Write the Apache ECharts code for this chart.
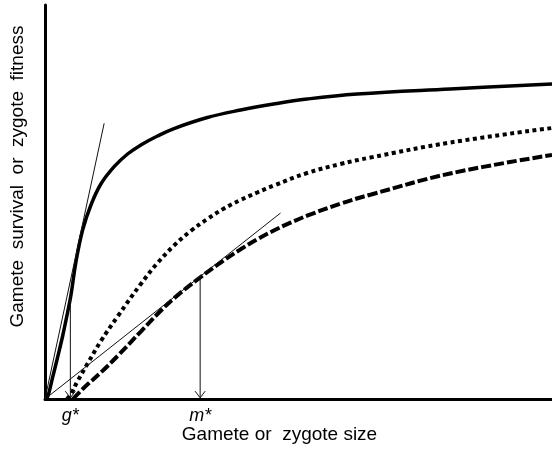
<!DOCTYPE html>
<html>
<head>
<meta charset="utf-8">
<script src="https://cdn.jsdelivr.net/npm/echarts@6/dist/echarts.min.js"></script>
<style>
  html, body { margin: 0; padding: 0; background: #fff; }
  #mychart { width: 552px; height: 458px; }
</style>
</head>
<body>
<div id="mychart"></div>
<script>
// curves, in plot units (x 0..100, y 0..100)
var gameteCurve = [
    [0, 0], [0.53, 0.58], [1.52, 5.58], [2.5, 10.66], [3.48, 15.99], [4.47, 22.08],
    [5.12, 26.4], [6.1, 34.77], [7.42, 42.89], [9.06, 49.24], [11.02, 54.57],
    [13.64, 58.96], [16.28, 62.18], [18.9, 64.47], [22.19, 66.75], [25.45, 68.65],
    [32.03, 71.45], [38.58, 73.35], [45.08, 74.87], [51.71, 76.14], [61.56, 77.41],
    [79.92, 78.68], [100, 79.95]
]
var dottedCurve = [
    [4.33, 0], [5.12, 1.27], [6.44, 4.57], [8.41, 9.01], [11.02, 14.72], [14.31, 20.94],
    [18.9, 29.19], [22.19, 34.52], [25.45, 38.96], [28.74, 42.64], [32.03, 45.69],
    [35.3, 48.35], [38.58, 50.51], [41.87, 52.41], [45.14, 54.19], [51.71, 57.36],
    [58.27, 59.64], [64.17, 61.29], [79.92, 65.1], [100, 68.78]
]
var zygoteCurve = [
    [5.51, 0], [7.74, 2.92], [11.02, 6.73], [14.31, 10.91], [18.9, 17.13], [22.19, 21.57],
    [25.45, 25.56], [30.37, 30.63], [35.3, 35.2], [38.58, 37.99], [41.87, 40.53],
    [45.14, 42.77], [48.43, 44.75], [51.71, 46.52], [58.27, 49.57], [64.17, 51.85],
    [79.92, 57.23], [100, 61.93]
]
// tangent lines from the origin
var tangentG = [[0, 0], [11.67, 69.97]]
var tangentM = [[0, 0], [46.46, 47.21]]
// optimum sizes
var optX = [5.0, 30.6]
var optY = [26.4, 30.6]
var optNames = ['g*', 'm*']

function arrowShaft(i) {
    return [[optX[i], optY[i]], [optX[i], 0.3]]
}
function arrowHead(i) {
    return [[optX[i] - 1, 2], [optX[i], 0.3], [optX[i] + 1, 2]]
}

function thin(data) {
    return {
        type: 'line', data: data, showSymbol: false, silent: true,
        lineStyle: { color: '#111', width: 1 }
    }
}

function curve(data, width, dash) {
    return {
        type: 'line', data: data, smooth: 0.4, showSymbol: false, silent: true,
        lineStyle: { color: '#000', width: width, type: dash, cap: 'butt' }
    }
}

var myChart = echarts.init(document.getElementById('mychart'))

var option = {
    animation: false,
    grid: { left: 44, right: 0, top: 5, bottom: 59 },
    textStyle: { fontFamily: 'Liberation Sans, Arial, sans-serif' },
    xAxis: {
        type: 'value', min: 0, max: 100,
        name: 'Gamete or  zygote size',
        nameLocation: 'middle',
        nameGap: 26,
        nameTextStyle: { color: '#000', fontSize: 19, padding: [0, 38, 0, 0] },
        axisLine: { lineStyle: { color: '#000', width: 3 } },
        axisTick: { show: false },
        axisLabel: { show: false },
        splitLine: { show: false }
    },
    yAxis: {
        type: 'value', min: 0, max: 100,
        name: 'Gamete  survival  or  zygote  fitness',
        nameLocation: 'middle',
        nameGap: 18,
        nameTextStyle: { color: '#000', fontSize: 19, padding: [0, 0, 0, 51] },
        axisLine: { show: true, lineStyle: { color: '#000', width: 3 } },
        axisTick: { show: false },
        axisLabel: { show: false },
        splitLine: { show: false }
    },
    series: [
        curve(gameteCurve, 3.5, 'solid'),
        curve(dottedCurve, 4, [4, 3.5]),
        curve(zygoteCurve, 4, [10, 3]),
        thin(tangentG),
        thin(tangentM),
        thin(arrowShaft(0)),
        thin(arrowHead(0)),
        thin(arrowShaft(1)),
        thin(arrowHead(1)),
        {
            type: 'scatter', symbolSize: 0, silent: true,
            itemStyle: { opacity: 1 },
            data: optX.map(function (x, i) { return { value: [x, 0], name: optNames[i] } }),
            label: {
                show: true, position: 'bottom', distance: 8,
                formatter: '{b}', color: '#000', fontSize: 18, fontStyle: 'italic'
            }
        }
    ]
}

myChart.setOption(option)
</script>
</body>
</html>
